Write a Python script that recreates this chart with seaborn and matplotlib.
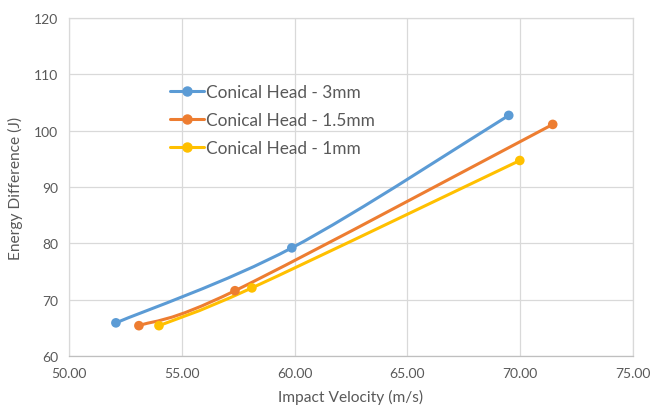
import numpy as np
import pandas as pd
import seaborn as sns
import matplotlib
matplotlib.use('Agg')
import matplotlib.pyplot as plt
from matplotlib.path import Path
from matplotlib.patches import PathPatch
from matplotlib.lines import Line2D

# 数据
series_names = ['Conical Head - 3mm', 'Conical Head - 1.5mm', 'Conical Head - 1mm']
vel_3mm = [52.08, 59.88, 69.50]
energy_3mm = [65.9, 79.2, 102.7]
vel_15mm = [53.10, 57.36, 71.45]
energy_15mm = [65.4, 71.6, 101.1]
vel_1mm = [53.99, 58.11, 69.99]
energy_1mm = [65.4, 72.1, 94.7]
colors = ['#5B9BD5', '#ED7D31', '#FFC000']

x_ticks = [50, 55, 60, 65, 70, 75]
y_ticks = [60, 70, 80, 90, 100, 110, 120]

df = pd.DataFrame({
    'vel': vel_3mm + vel_15mm + vel_1mm,
    'energy': energy_3mm + energy_15mm + energy_1mm,
    'series': [series_names[0]] * 3 + [series_names[1]] * 3 + [series_names[2]] * 3,
})

sns.set_theme(style='white')
plt.rcParams['font.family'] = ['Lato', 'DejaVu Sans']
text_color = '#595959'
grid_color = '#D9D9D9'


# Excel风格平滑曲线 (Catmull-Rom -> Bezier)
def smooth_path(xs, ys):
    pts = np.column_stack([xs, ys]).astype(float)
    n = len(pts)
    verts = [pts[0]]
    codes = [Path.MOVETO]
    for i in range(n - 1):
        p0 = pts[i - 1] if i > 0 else pts[i]
        p1 = pts[i]
        p2 = pts[i + 1]
        p3 = pts[i + 2] if i + 2 < n else pts[i + 1]
        c1 = p1 + (p2 - p0) / 6.0
        c2 = p2 - (p3 - p1) / 6.0
        verts += [c1, c2, p2]
        codes += [Path.CURVE4] * 3
    return Path(verts, codes)


fig = plt.figure(figsize=(6.51, 4.10), dpi=100)
ax = fig.add_axes([0.106, 0.129, 0.866, 0.825])

for name, c in zip(series_names, colors):
    sub = df[df['series'] == name]
    patch = PathPatch(smooth_path(sub['vel'], sub['energy']), facecolor='none',
                      edgecolor=c, lw=2.2, zorder=3, capstyle='round')
    ax.add_patch(patch)

sns.scatterplot(data=df, x='vel', y='energy', hue='series', palette=colors,
                s=48, edgecolor='none', zorder=4, legend=False, ax=ax)

ax.set_xlim(50, 75)
ax.set_ylim(60, 120)
ax.set_xticks(x_ticks)
ax.set_xticklabels([f'{v:.2f}' for v in x_ticks])
ax.set_yticks(y_ticks)
ax.grid(True, color=grid_color, lw=0.9)
ax.set_axisbelow(True)
for s in ax.spines.values():
    s.set_color(grid_color)
    s.set_linewidth(0.9)
ax.spines['bottom'].set_color('#BFBFBF')
ax.tick_params(axis='both', length=0, labelsize=10, colors=text_color, pad=8)
ax.set_xlabel('Impact Velocity (m/s)', fontsize=11.2, color=text_color, labelpad=7)
ax.set_ylabel('Energy Difference (J)', fontsize=11.2, color=text_color, labelpad=8)

handles = [Line2D([0], [0], color=c, lw=2.2, marker='o', markersize=6.5) for c in colors]
leg = ax.legend(handles, series_names, loc='upper left', bbox_to_anchor=(0.179, 0.805),
                frameon=False, fontsize=12.4, handlelength=1.95, labelspacing=0.7,
                handletextpad=0.15, borderaxespad=0, borderpad=0)
for t in leg.get_texts():
    t.set_color(text_color)

plt.savefig('out.png', dpi=100)
